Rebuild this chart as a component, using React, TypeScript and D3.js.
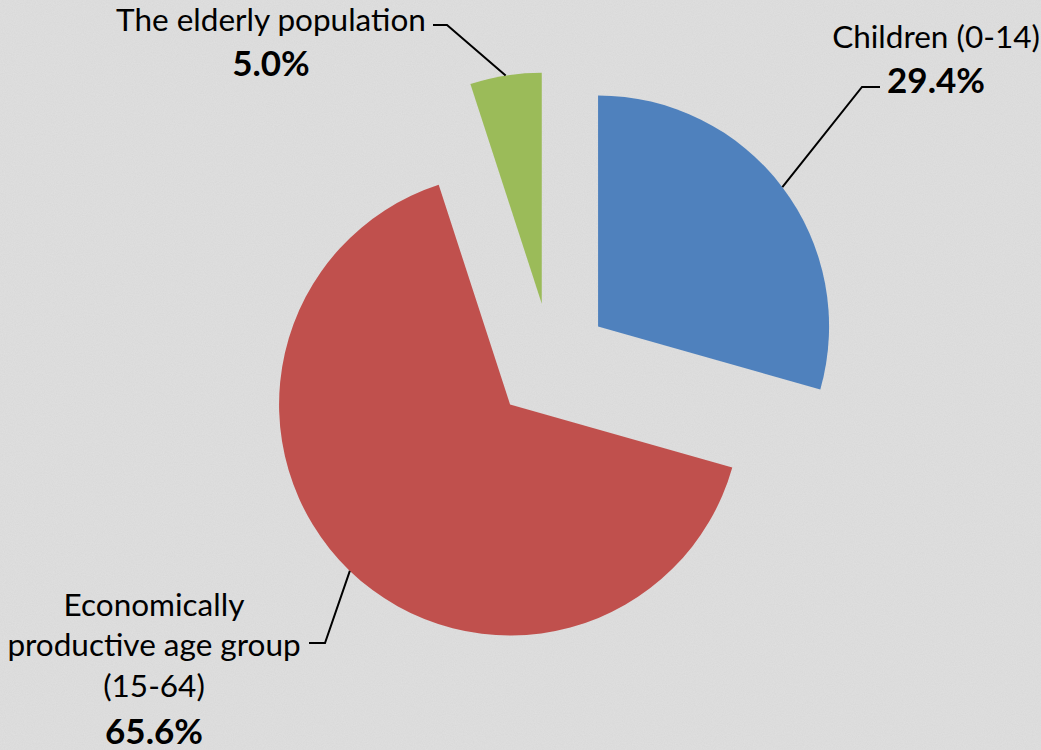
import React, { useRef, useEffect } from 'react';
import * as d3 from 'd3';

const categories = ['Children (0-14)', 'Economically productive age group (15-64)', 'The elderly population'];
const labelLines = [['Children (0-14)'], ['Economically', 'productive age group', '(15-64)'], ['The elderly population']];
const values = [29.4, 65.6, 5.0];
const colors = ['#4f81bd', '#c0504d', '#9bbb59'];

const W = 1041;
const H = 750;

export default function App() {
  const ref = useRef<SVGSVGElement>(null);

  useEffect(() => {
    if (!ref.current) return;
    const svg = d3.select(ref.current);
    svg.selectAll('*').remove();

    // background with a light paper texture
    const defs = svg.append('defs');
    const f = defs.append('filter').attr('id', 'noise').attr('x', 0).attr('y', 0).attr('width', '100%').attr('height', '100%');
    f.append('feTurbulence').attr('type', 'fractalNoise').attr('baseFrequency', 0.9).attr('numOctaves', 2).attr('seed', 3);
    f.append('feColorMatrix').attr('type', 'matrix')
      .attr('values', '0 0 0 0 1  0 0 0 0 1  0 0 0 0 1  0 0 0 0.35 0');
    svg.append('rect').attr('width', W).attr('height', H).attr('fill', '#d8d8d8');
    svg.append('rect').attr('width', W).attr('height', H).attr('filter', 'url(#noise)').attr('opacity', 0.6);

    const cx = 551, cy = 362, r = 231, explode = 59;
    const pie = d3.pie<number>().sort(null).value(d => d);
    const arcs = pie(values);
    const arc = d3.arc<d3.PieArcDatum<number>>().innerRadius(0).outerRadius(r);

    const dir = (a: number) => [Math.sin(a), -Math.cos(a)];

    const g = svg.append('g').attr('transform', `translate(${cx},${cy})`);
    g.selectAll('path.slice')
      .data(arcs)
      .enter()
      .append('path')
      .attr('class', 'slice')
      .attr('d', arc)
      .attr('fill', (_, i) => colors[i])
      .attr('transform', d => {
        const [dx, dy] = dir((d.startAngle + d.endAngle) / 2);
        return `translate(${dx * explode},${dy * explode})`;
      });

    // label layout: elbow of leader line, end of leader line, text centre and baselines
    const layout = [
      { elbow: [862, 87], end: [880, 87], tx: 936, nameY: [48], pctY: 93 },
      { elbow: [325, 643], end: [309, 643], tx: 154, nameY: [616, 656, 697], pctY: 744 },
      { elbow: [447, 25], end: [433, 25], tx: 271, nameY: [31], pctY: 76 },
    ];

    arcs.forEach((d, i) => {
      const mid = (d.startAngle + d.endAngle) / 2;
      const [dx, dy] = dir(mid);
      const sx = cx + dx * (explode + r);
      const sy = cy + dy * (explode + r);
      const L = layout[i];
      svg.append('polyline')
        .attr('points', `${sx},${sy} ${L.elbow[0]},${L.elbow[1]} ${L.end[0]},${L.end[1]}`)
        .attr('fill', 'none')
        .attr('stroke', '#000')
        .attr('stroke-width', 2);

      labelLines[i].forEach((line, j) => {
        svg.append('text')
          .attr('x', L.tx)
          .attr('y', L.nameY[j])
          .attr('text-anchor', 'middle')
          .style('font-family', 'Lato, "Noto Sans", sans-serif')
          .style('font-size', '31.5px')
          .attr('fill', '#000')
          .text(line);
      });
      svg.append('text')
        .attr('x', L.tx)
        .attr('y', L.pctY)
        .attr('text-anchor', 'middle')
        .style('font-family', 'Lato, "Noto Sans", sans-serif')
        .style('font-size', '35px')
        .style('font-weight', 'bold')
        .attr('fill', '#000')
        .text(`${values[i].toFixed(1)}%`);
    });
  }, []);

  return (
    <div style={{ width: W, height: H }}>
      <style>{`body{margin:0}`}</style>
      <svg ref={ref} width={W} height={H} aria-label={categories.join(', ')} style={{ display: 'block' }}></svg>
    </div>
  );
}
